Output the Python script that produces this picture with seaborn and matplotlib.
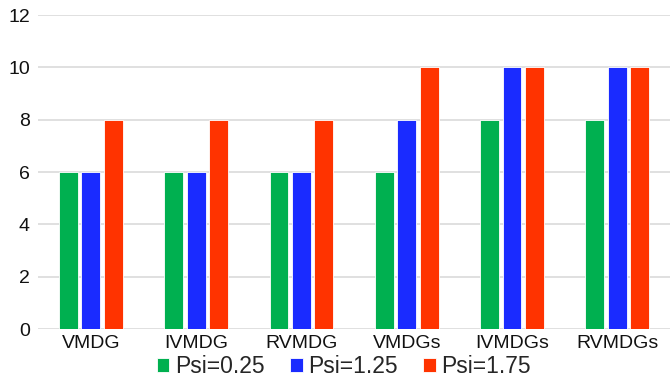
import matplotlib
matplotlib.use("Agg")
import matplotlib.pyplot as plt
import seaborn as sns
import pandas as pd

categories = ["VMDG", "IVMDG", "RVMDG", "VMDGs", "IVMDGs", "RVMDGs"]
series_names = ["Psi=0.25", "Psi=1.25", "Psi=1.75"]
psi_025 = [6, 6, 6, 6, 8, 8]
psi_125 = [6, 6, 6, 8, 10, 10]
psi_175 = [8, 8, 8, 10, 10, 10]
y_ticks = [0, 2, 4, 6, 8, 10, 12]

colors = ["#00B050", "#1A2BFF", "#FF3300"]

df = pd.DataFrame({
    "category": categories * 3,
    "series": [s for s in series_names for _ in categories],
    "value": psi_025 + psi_125 + psi_175,
})

sns.set_theme(style="white")
plt.rcParams["font.family"] = ["Liberation Sans", "DejaVu Sans"]

fig = plt.figure(figsize=(6.7, 3.85), dpi=100)
ax = fig.add_axes([0.057, 0.145, 0.943, 0.816])

sns.barplot(data=df, x="category", y="value", hue="series", order=categories,
            hue_order=series_names, palette=colors, width=0.64, gap=0.16,
            edgecolor="white", linewidth=0.6, errorbar=None, ax=ax,
            saturation=1)
for patch in ax.patches:
    patch.set_joinstyle("miter")

ax.set_ylim(0, 12)
ax.set_yticks(y_ticks)
ax.set_xlim(-0.5, len(categories) - 0.5)
ax.yaxis.grid(True, color="#DADADA", linewidth=1.2)
ax.set_axisbelow(True)
for s in ax.spines.values():
    s.set_visible(False)
ax.tick_params(axis="both", length=0, labelsize=14, colors="#111111")
ax.tick_params(axis="x", pad=4)
ax.tick_params(axis="y", pad=6)
ax.set_xlabel("")
ax.set_ylabel("")

handles, labels = ax.get_legend_handles_labels()
ax.legend(handles, labels, loc="center", bbox_to_anchor=(0.484, -0.12),
          ncol=3, frameon=False, fontsize=16.5, handlelength=0.55,
          handleheight=0.55, handletextpad=0.25, columnspacing=1.1,
          borderaxespad=0, borderpad=0)

fig.savefig("out.png", dpi=100)
